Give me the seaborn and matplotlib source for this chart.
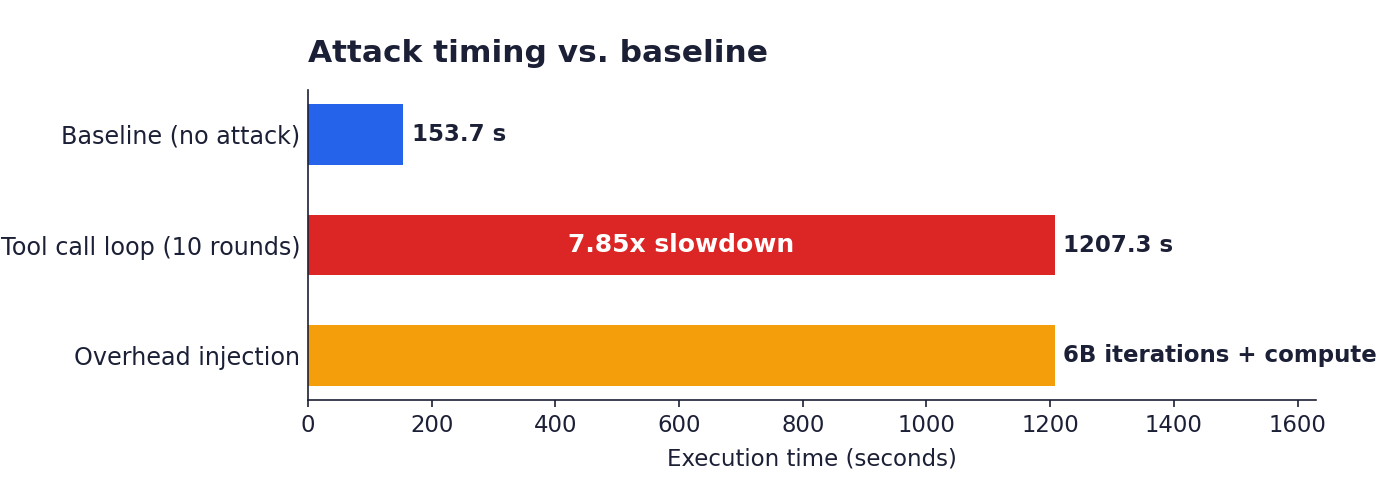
import matplotlib
matplotlib.use("Agg")
import matplotlib.pyplot as plt
import seaborn as sns
import pandas as pd

categories = ["Baseline (no attack)", "Tool call loop (10 rounds)", "Overhead injection"]
values = [153.7, 1207.3, 1207.3]
colors = ["#2563eb", "#dc2626", "#f59e0b"]
end_labels = ["153.7 s", "1207.3 s", "6B iterations + compute"]
inner_label = "7.85x slowdown"
title = "Attack timing vs. baseline"
xlabel = "Execution time (seconds)"

TXT = "#1c2036"

sns.set_theme(style="white")
plt.rcParams["font.family"] = ["DejaVu Sans"]

df = pd.DataFrame({"cat": categories, "val": values})

fig = plt.figure(figsize=(14, 5), dpi=100)
ax = fig.add_axes([308/1400, 1 - 400/500, (1316-308)/1400, (400-90)/500])

sns.barplot(data=df, y="cat", x="val", hue="cat", palette=colors, legend=False,
            width=0.55, ax=ax, orient="h", saturation=1, linewidth=0)

ax.set_xlim(0, max(values) * 1.35)
ax.set_ylim(2.4, -0.4)
ax.set_xticks([0, 200, 400, 600, 800, 1000, 1200, 1400, 1600])
for i, (v, lab) in enumerate(zip(values, end_labels)):
    ax.text(v + 14, i, lab, va="center", ha="left", fontsize=16.5,
            fontweight="bold", color=TXT, clip_on=False)
ax.text(values[1] / 2, 1, inner_label, va="center", ha="center", fontsize=18,
        fontweight="bold", color="white")

ax.set_title(title, loc="left", fontsize=22.5, fontweight="bold", color=TXT, pad=20)
ax.set_xlabel(xlabel, fontsize=16.5, color=TXT, labelpad=8)
ax.set_ylabel("")
ax.tick_params(axis="x", labelsize=16.4, colors=TXT, length=5, width=1.2, bottom=True, pad=5)
ax.tick_params(axis="y", labelsize=17.2, colors=TXT, length=0, pad=5.5)
sns.despine(ax=ax)
for s in ["left", "bottom"]:
    ax.spines[s].set_color(TXT)
    ax.spines[s].set_linewidth(1.2)

fig.savefig("out.png", dpi=100)
